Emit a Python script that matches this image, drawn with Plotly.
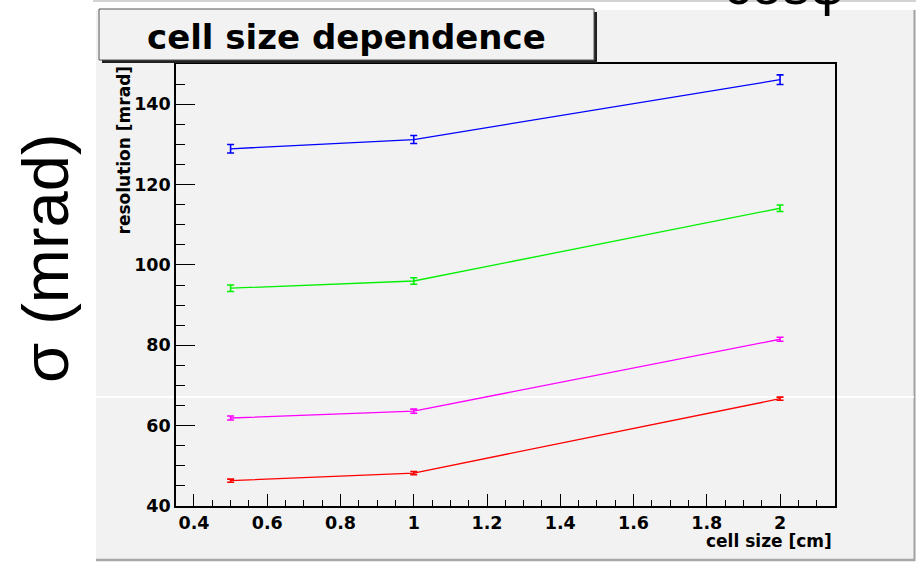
import plotly.graph_objects as go

# ---- data ----
cell_size = [0.5, 1.0, 2.0]
res_blue = [128.9, 131.2, 146.1]
err_blue = [1.05, 1.0, 1.2]
res_green = [94.2, 96.0, 114.1]
err_green = [0.8, 0.8, 0.8]
res_magenta = [61.9, 63.6, 81.5]
err_magenta = [0.5, 0.5, 0.5]
res_red = [46.3, 48.2, 66.7]
err_red = [0.4, 0.4, 0.4]

series = [
    (res_blue, err_blue, "#0000ff"),
    (res_green, err_green, "#00f000"),
    (res_magenta, err_magenta, "#ff00ff"),
    (res_red, err_red, "#ff0000"),
]

W, H = 916, 568
L, R, T, B = 176, 835, 64, 506  # plot area pixel box
PW, PH = R - L, B - T


def px(x):
    return (x - L) / PW


def py(y):
    return (B - y) / PH


fig = go.Figure()
for vals, errs, col in series:
    fig.add_trace(go.Scatter(
        x=cell_size, y=vals, mode="lines",
        line=dict(color=col, width=1.3),
        error_y=dict(type="data", array=errs, visible=True, color=col,
                     thickness=1.6, width=3.5),
        showlegend=False, hoverinfo="skip",
    ))

tickfont = dict(family="DejaVu Sans", size=17.5, color="black", weight="bold")
panel = "#f2f2f2"

shapes = [
    # outer gray line at the very top
    dict(type="line", xref="paper", yref="paper", x0=px(93), x1=px(916),
         y0=py(1), y1=py(1), line=dict(color="#c4c4c4", width=1.5), layer="below"),
    # gray panel
    dict(type="rect", xref="paper", yref="paper", x0=px(96), x1=px(914),
         y0=py(559), y1=py(10), fillcolor=panel, line=dict(width=0), layer="below"),
    # right and bottom edges of panel
    dict(type="line", xref="paper", yref="paper", x0=px(914.5), x1=px(914.5),
         y0=py(561), y1=py(10), line=dict(color="#a0a0a0", width=2), layer="below"),
    dict(type="line", xref="paper", yref="paper", x0=px(96), x1=px(915),
         y0=py(560), y1=py(560), line=dict(color="#a8a8a8", width=2.5), layer="below"),
    # white horizontal streak
    dict(type="line", xref="paper", yref="paper", x0=px(96), x1=px(914),
         y0=py(397), y1=py(397), line=dict(color="white", width=2), layer="below"),
    # title box shadow and box
    dict(type="rect", xref="paper", yref="paper", x0=px(102), x1=px(597),
         y0=py(63), y1=py(12), fillcolor="#222222", line=dict(width=0), layer="above"),
    dict(type="rect", xref="paper", yref="paper", x0=px(99), x1=px(594),
         y0=py(60), y1=py(9), fillcolor=panel, line=dict(color="#555555", width=1), layer="above"),
]

annotations = [
    dict(text="cell size dependence", xref="paper", yref="paper",
         x=px(346), y=py(37), xanchor="center", yanchor="middle", showarrow=False,
         font=dict(family="DejaVu Sans", size=34, color="black", weight="bold")),
    dict(text="cell size [cm]", xref="paper", yref="paper",
         x=px(834), y=py(541), xanchor="right", yanchor="middle", showarrow=False,
         font=dict(family="DejaVu Sans", size=17, color="black", weight="bold")),
    dict(text="resolution [mrad]", xref="paper", yref="paper", textangle=-90,
         x=px(123), y=py(64), xanchor="center", yanchor="top", showarrow=False,
         font=dict(family="DejaVu Sans", size=17, color="black", weight="bold")),
    dict(text="σ (mrad)", xref="paper", yref="paper", textangle=-90,
         x=px(45), y=py(258), xanchor="center", yanchor="middle", showarrow=False,
         font=dict(family="Liberation Sans", size=65, color="black")),
    dict(text="cosφ", xref="paper", yref="paper",
         x=px(784), y=py(18), xanchor="center", yanchor="bottom", showarrow=False,
         font=dict(family="Liberation Sans", size=55, color="black")),
]

fig.update_layout(
    width=W, height=H,
    margin=dict(l=L, r=W - R, t=T, b=H - B, pad=0),
    paper_bgcolor="white",
    plot_bgcolor="rgba(0,0,0,0)",
    shapes=shapes,
    annotations=annotations,
    xaxis=dict(range=[0.351, 2.150], tick0=0.4, dtick=0.2, ticks="inside",
               ticklen=12, tickwidth=1.3, tickcolor="black",
               minor=dict(dtick=0.05, tick0=0.4, ticks="inside", ticklen=6,
                          tickwidth=1.2, tickcolor="black"),
               showline=True, linecolor="black", linewidth=1.6, mirror=True,
               showgrid=False, zeroline=False, tickfont=tickfont),
    yaxis=dict(range=[40, 150], tick0=40, dtick=20, ticks="inside",
               ticklen=19, tickwidth=1.3, tickcolor="black",
               minor=dict(dtick=5, tick0=40, ticks="inside", ticklen=9.5,
                          tickwidth=1.2, tickcolor="black"),
               showline=True, linecolor="black", linewidth=1.6, mirror=True,
               showgrid=False, zeroline=False, tickfont=tickfont),
)

fig.write_html(
    "out.html",
    config={"displayModeBar": False},
    post_script="document.body.style.margin='0px';document.body.style.overflow='hidden';",
)
